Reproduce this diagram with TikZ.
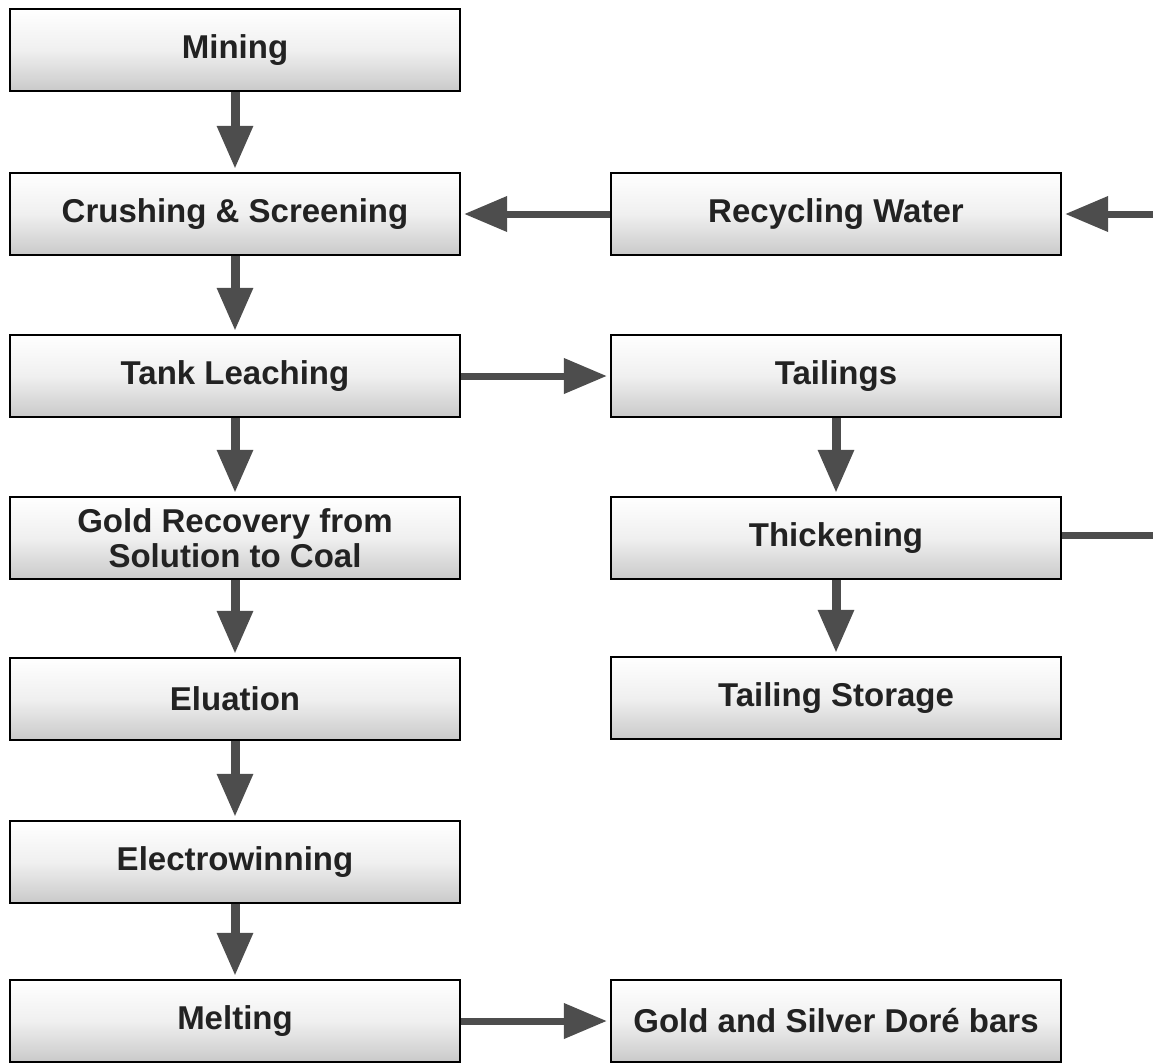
\documentclass[tikz,border=0pt]{standalone}
\usepackage{fontspec}
\setmainfont{Liberation Sans}
\usetikzlibrary{arrows.meta}
\definecolor{arrgray}{HTML}{4D4D4D}
\definecolor{txtgray}{HTML}{222222}
\tikzset{
  procbox/.style={draw=black, line width=2.2pt, rectangle,
    minimum width=450pt, minimum height=82pt, inner sep=0pt,
    top color=white, bottom color=gray!42, middle color=white!88!gray,
    font=\fontsize{33}{35}\selectfont\bfseries, text=txtgray, align=center},
  flowarrow/.style={draw=arrgray, line width=9pt,
    -{Triangle[width=34pt,length=43pt]}, shorten >=3pt},
  flowarrowh/.style={draw=arrgray, line width=7pt,
    -{Triangle[width=34pt,length=43pt]}, shorten >=3pt},
  flowline/.style={draw=arrgray, line width=7pt}
}
\begin{document}
\begin{tikzpicture}[x=1pt,y=-1pt]
\useasboundingbox[fill=white] (0,0) rectangle (1153,1063);
% left column
\node[procbox] (mining)  at (235,50)   {Mining};
\node[procbox] (crush)   at (235,214)  {Crushing \& Screening};
\node[procbox] (tank)    at (235,376)  {Tank Leaching};
\node[procbox] (goldrec) at (235,538)  {Gold Recovery from\\Solution to Coal};
\node[procbox] (elu)     at (235,699)  {Eluation};
\node[procbox] (elec)    at (235,862)  {Electrowinning};
\node[procbox] (melt)    at (235,1021) {Melting};
% right column
\node[procbox] (recyc)   at (836,214)  {Recycling Water};
\node[procbox] (tail)    at (836,376)  {Tailings};
\node[procbox] (thick)   at (836,538)  {Thickening};
\node[procbox] (store)   at (836,698)  {Tailing Storage};
\node[procbox] (dore)    at (836,1021) {Gold and Silver Doré bars};
% free ends at the right edge
\coordinate (rin)  at (1153,214);
\coordinate (rout) at (1153,535);
% vertical arrows
\draw[flowarrow] (mining.south) -- (crush.north);
\draw[flowarrow] (crush.south) -- (tank.north);
\draw[flowarrow] (tank.south) -- (goldrec.north);
\draw[flowarrow] (goldrec.south) -- (elu.north);
\draw[flowarrow] (elu.south) -- (elec.north);
\draw[flowarrow] (elec.south) -- (melt.north);
\draw[flowarrow] (tail.south) -- (thick.north);
\draw[flowarrow] (thick.south) -- (store.north);
% horizontal arrows
\draw[flowarrowh] (recyc.west) -- (crush.east);
\draw[flowarrowh] (tank.east) -- (tail.west);
\draw[flowarrowh] (melt.east) -- (dore.west);
\draw[flowarrowh] (rin) -- (rin -| recyc.east);
\draw[flowline] (thick.east |- rout) -- (rout);
\end{tikzpicture}
\end{document}
